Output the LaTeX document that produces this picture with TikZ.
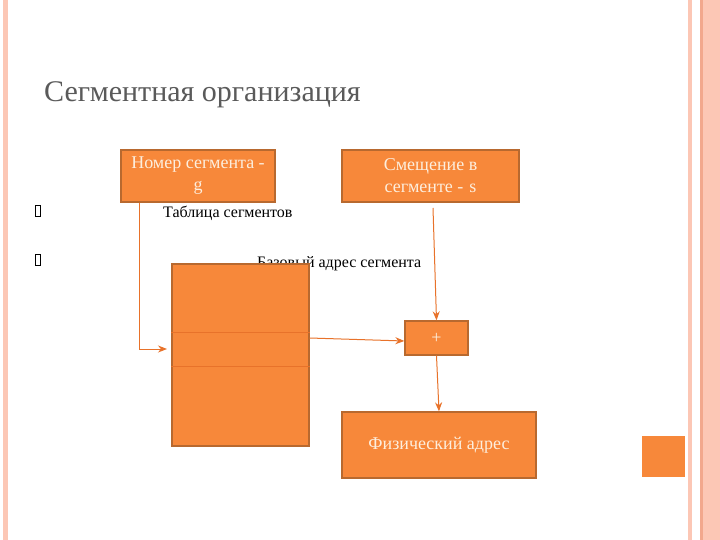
\documentclass[tikz,border=0pt]{standalone}
\usepackage{fontspec}
\setmainfont{Liberation Serif}
\usetikzlibrary{arrows.meta}
\definecolor{orfill}{HTML}{F7883A}
\definecolor{ordraw}{HTML}{B8692F}
\definecolor{orline}{HTML}{E8722A}
\definecolor{pinkA}{HTML}{FCC7B5}
\definecolor{pinkB}{HTML}{F2A88D}
\definecolor{cream}{HTML}{FDEEDD}
\definecolor{titlegray}{HTML}{5A5A5A}
\tikzset{
  obox/.style={draw=ordraw, line width=1.3pt, fill=orfill, text=cream, align=center, inner sep=0pt, font=\fontsize{18}{22}\selectfont},
  conn/.style={draw=orline, line width=1pt, -{Stealth[length=9pt,width=7pt]}},
  lbl/.style={text=black, inner sep=0pt, font=\fontsize{16}{18}\selectfont},
  bul/.style={draw=black, line width=0.6pt, minimum width=5pt, minimum height=11pt, inner sep=0pt}
}
\begin{document}
\begin{tikzpicture}[x=1pt,y=-1pt]
\useasboundingbox (0,0) rectangle (720,540);
\fill[white] (0,0) rectangle (720,540);
% decorative strips
\fill[pinkA] (3,0) rectangle (8,540);
\fill[pinkA] (688,0) rectangle (692,540);
\fill[pinkA] (700,0) rectangle (720,540);
\fill[pinkB] (700,0) rectangle (702.5,540);
\fill[orfill] (642,436) rectangle (685,477);
% title
\node[anchor=base west, text=titlegray, inner sep=0pt, font=\fontsize{30}{32}\selectfont] (title) at (44,102) {Сегментная организация};
% bullets (missing-glyph boxes)
\node[bul] (b1) at (38,211) {};
\node[bul] (b2) at (38,260) {};
% labels
\node[lbl, anchor=base west] (tab) at (163,218) {Таблица сегментов};
\node[lbl, anchor=base west] (base) at (257,267) {Базовый адрес сегмента};
% boxes
\node[obox, minimum width=154pt, minimum height=52pt] (g) at (198,176) {Номер сегмента -\\g};
\node[obox, minimum width=177pt, minimum height=52pt] (s) at (430.5,176) {Смещение в\\сегменте -\,\,s};
\node[obox, minimum width=137pt, minimum height=182pt] (table) at (240.5,355) {};
\draw[orline, line width=0.9pt] (table.west |- 0,332) -- (table.east |- 0,332);
\draw[orline, line width=0.9pt] (table.west |- 0,366) -- (table.east |- 0,366);
\node[obox, minimum width=63pt, minimum height=34pt] (plus) at (436.5,338) {+};
\node[obox, minimum width=194pt, minimum height=66pt] (phys) at (439,445) {Физический адрес};
% connectors
\coordinate (gdown) at (139,349);
\draw[conn] (g.south -| 139,0) -- (gdown) -- (167,349);
\draw[conn] (433,208) -- (plus.north);
\draw[conn] (table.east |- 0,338) -- ([yshift=-3pt]plus.west);
\draw[conn] (plus.south) -- (phys.north);
\end{tikzpicture}
\end{document}
